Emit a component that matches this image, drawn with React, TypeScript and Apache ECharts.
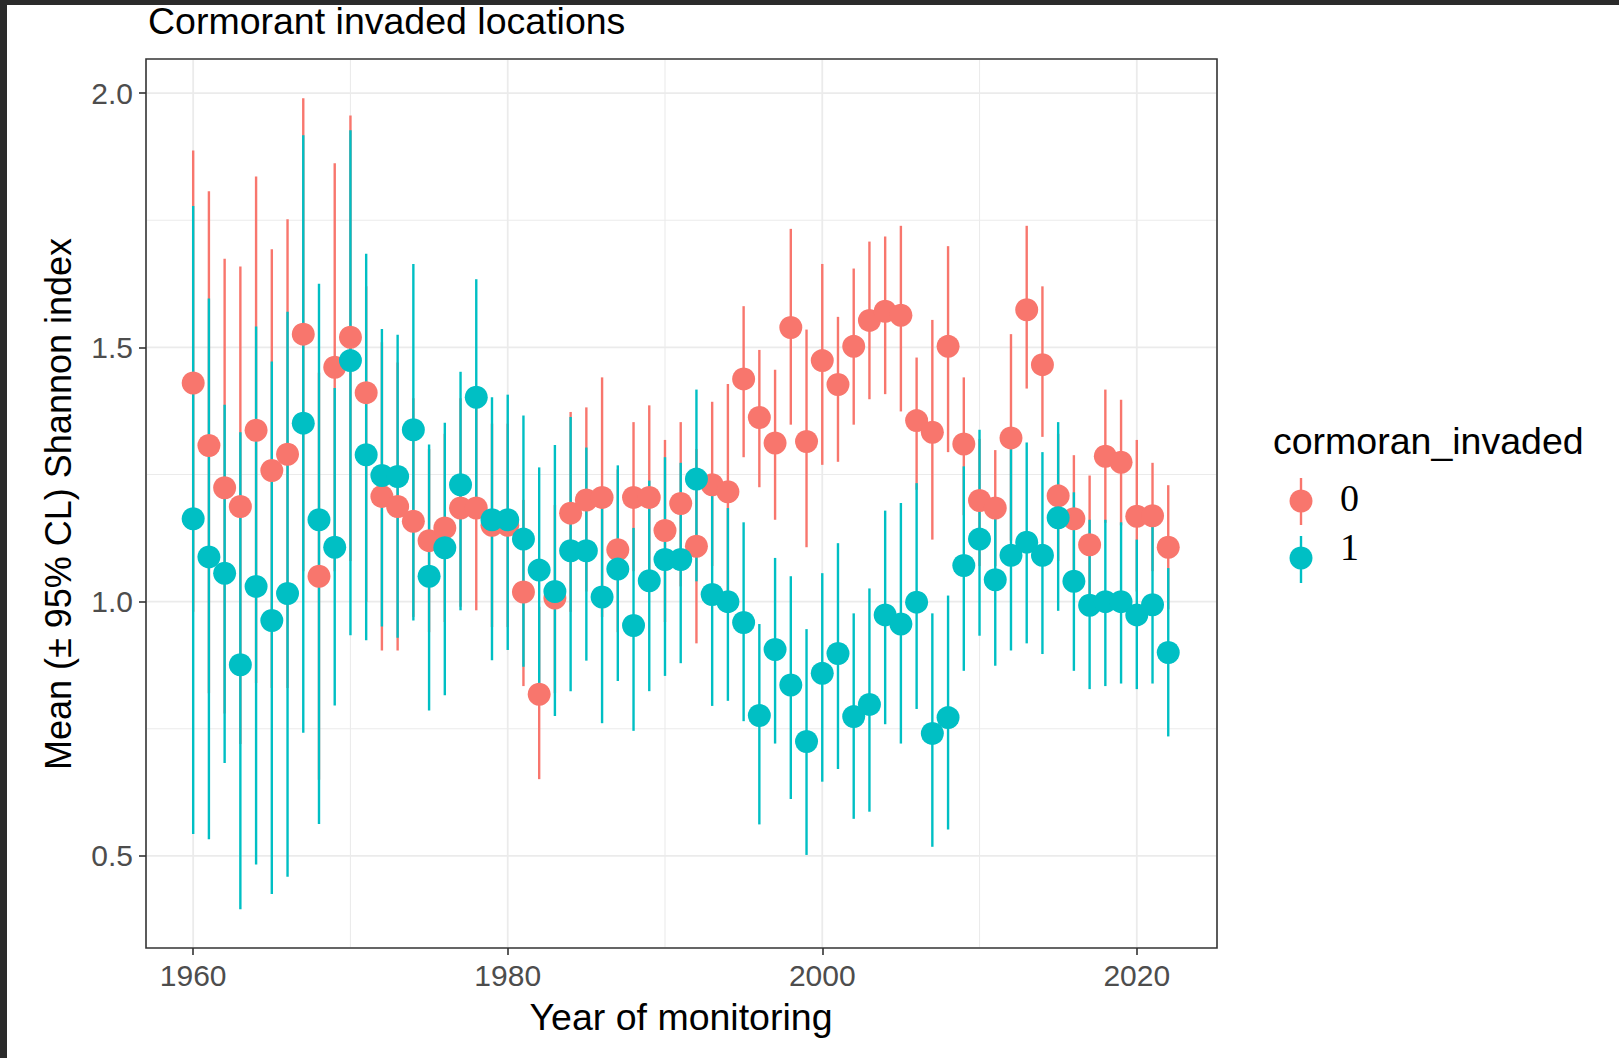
import React, { useEffect, useRef } from 'react';
import * as echarts from 'echarts';

// ---------- data ----------
const years = [
  1960, 1961, 1962, 1963, 1964, 1965, 1966, 1967, 1968, 1969,
  1970, 1971, 1972, 1973, 1974, 1975, 1976, 1977, 1978, 1979,
  1980, 1981, 1982, 1983, 1984, 1985, 1986, 1987, 1988, 1989,
  1990, 1991, 1992, 1993, 1994, 1995, 1996, 1997, 1998, 1999,
  2000, 2001, 2002, 2003, 2004, 2005, 2006, 2007, 2008, 2009,
  2010, 2011, 2012, 2013, 2014, 2015, 2016, 2017, 2018, 2019,
  2020, 2021, 2022,
];

// cormoran_invaded = 0
const mean0 = [
  1.430, 1.307, 1.224, 1.187, 1.337, 1.258, 1.290, 1.526, 1.050, 1.461,
  1.520, 1.411, 1.207, 1.187, 1.158, 1.120, 1.145, 1.184, 1.184, 1.150,
  1.150, 1.019, 0.818, 1.007, 1.174, 1.200, 1.205, 1.102, 1.205, 1.205,
  1.140, 1.193, 1.109, 1.230, 1.216, 1.438, 1.362, 1.312, 1.539, 1.315,
  1.474, 1.427, 1.502, 1.553, 1.571, 1.563, 1.356, 1.333, 1.502, 1.310,
  1.199, 1.184, 1.322, 1.574, 1.466, 1.208, 1.163, 1.112, 1.286, 1.274,
  1.168, 1.169, 1.107,
];
const low0 = [
  0.980, 0.820, 0.780, 0.720, 0.840, 0.830, 0.830, 1.060, 0.650, 1.060,
  1.080, 1.000, 0.904, 0.904, 0.970, 0.940, 0.960, 0.990, 0.983, 0.950,
  0.950, 0.834, 0.651, 0.820, 0.980, 1.020, 0.970, 0.940, 1.060, 1.020,
  0.960, 1.030, 0.918, 1.070, 1.000, 1.284, 1.225, 1.161, 1.348, 1.107,
  1.269, 1.275, 1.348, 1.398, 1.408, 1.374, 1.220, 1.122, 1.294, 1.170,
  1.070, 1.070, 1.120, 1.419, 1.324, 1.080, 1.040, 0.980, 1.155, 1.150,
  1.020, 1.060, 0.985,
];
const high0 = [
  1.887, 1.807, 1.674, 1.659, 1.836, 1.693, 1.752, 1.990, 1.450, 1.862,
  1.956, 1.620, 1.510, 1.470, 1.400, 1.300, 1.330, 1.400, 1.390, 1.350,
  1.350, 1.200, 0.990, 1.190, 1.373, 1.382, 1.441, 1.260, 1.353, 1.386,
  1.318, 1.353, 1.300, 1.393, 1.428, 1.581, 1.495, 1.456, 1.733, 1.535,
  1.664, 1.560, 1.655, 1.708, 1.718, 1.739, 1.480, 1.554, 1.699, 1.441,
  1.320, 1.298, 1.526, 1.739, 1.620, 1.330, 1.288, 1.248, 1.417, 1.397,
  1.318, 1.273, 1.229,
];

// cormoran_invaded = 1
const mean1 = [
  1.163, 1.088, 1.056, 0.876, 1.030, 0.963, 1.016, 1.351, 1.161, 1.107,
  1.474, 1.289, 1.248, 1.246, 1.338, 1.050, 1.106, 1.230, 1.402, 1.161,
  1.161, 1.123, 1.062, 1.020, 1.100, 1.100, 1.009, 1.064, 0.953, 1.041,
  1.083, 1.083, 1.241, 1.014, 1.000, 0.959, 0.776, 0.906, 0.836, 0.725,
  0.859, 0.898, 0.774, 0.798, 0.974, 0.956, 0.999, 0.741, 0.772, 1.071,
  1.123, 1.043, 1.091, 1.117, 1.091, 1.165, 1.040, 0.993, 1.000, 1.000,
  0.974, 0.994, 0.900,
];
const low1 = [
  0.543, 0.533, 0.683, 0.395, 0.483, 0.425, 0.459, 0.742, 0.563, 0.796,
  0.934, 0.924, 0.951, 0.929, 0.963, 0.786, 0.816, 0.983, 1.170, 0.885,
  0.905, 0.872, 0.830, 0.775, 0.824, 0.884, 0.761, 0.844, 0.746, 0.824,
  0.854, 0.879, 1.040, 0.795, 0.805, 0.765, 0.562, 0.721, 0.612, 0.502,
  0.646, 0.671, 0.573, 0.587, 0.759, 0.721, 0.789, 0.518, 0.552, 0.864,
  0.933, 0.874, 0.904, 0.918, 0.897, 0.982, 0.864, 0.828, 0.834, 0.839,
  0.828, 0.839, 0.735,
];
const high1 = [
  1.778, 1.596, 1.387, 1.333, 1.541, 1.472, 1.570, 1.917, 1.625, 1.420,
  1.927, 1.684, 1.536, 1.525, 1.664, 1.309, 1.352, 1.452, 1.634, 1.402,
  1.407, 1.366, 1.264, 1.308, 1.363, 1.303, 1.190, 1.268, 1.145, 1.238,
  1.284, 1.273, 1.417, 1.210, 1.184, 1.156, 0.956, 1.086, 1.050, 0.946,
  1.056, 1.115, 0.977, 1.026, 1.179, 1.194, 1.233, 0.977, 1.012, 1.266,
  1.338, 1.170, 1.300, 1.313, 1.294, 1.353, 1.215, 1.161, 1.161, 1.156,
  1.122, 1.147, 1.066,
];

const groupLabels = ['0', '1'];
const xMajorTicks = [1960, 1980, 2000, 2020];
const xMinorTicks = [1970, 1990, 2010];
const yMajorTicks = [0.5, 1.0, 1.5, 2.0];
const yMinorTicks = [0.75, 1.25, 1.75];

const titleText = 'Cormorant invaded locations';
const xTitle = 'Year of monitoring';
const yTitle = 'Mean (\u00B1 95% CL) Shannon index';
const legendTitle = 'cormoran_invaded';

// ---------- styling ----------
const RED = '#F8766D';
const TEAL = '#00BFC4';
const GRID = '#EBEBEB';
const DARK = '#333333';
const SANS = '"Liberation Sans", Arial, Helvetica, sans-serif';
const SERIF = '"Liberation Serif", "Times New Roman", serif';

const W = 1619;
const H = 1058;
const X_MIN = 1957.0;
const X_MAX = 2025.1;
const Y_MIN = 0.319;
const Y_MAX = 2.067;
const GL = 146;
const GT = 59;
const GW = 1071;
const GH = 889;

export default function App() {
  const ref = useRef<HTMLDivElement>(null);

  useEffect(() => {
    document.body.style.margin = '0';
    if (!ref.current) return;
    const chart = echarts.init(ref.current, null, { renderer: 'svg', width: W, height: H });

    const errRender = (color: string) => (params: any, api: any) => {
      const x = api.value(0);
      const p1 = api.coord([x, api.value(1)]);
      const p2 = api.coord([x, api.value(2)]);
      return {
        type: 'line',
        shape: { x1: p1[0], y1: p1[1], x2: p2[0], y2: p2[1] },
        style: { stroke: color, lineWidth: 2.4 },
      };
    };

    const vGrid = (w: number) => (params: any, api: any) => {
      const p = api.coord([api.value(0), api.value(1)]);
      const cs = params.coordSys;
      return {
        type: 'line',
        shape: { x1: p[0], y1: cs.y + 1, x2: p[0], y2: cs.y + cs.height - 1 },
        style: { stroke: GRID, lineWidth: w },
      };
    };
    const hGrid = (w: number) => (params: any, api: any) => {
      const p = api.coord([api.value(0), api.value(1)]);
      const cs = params.coordSys;
      return {
        type: 'line',
        shape: { x1: cs.x + 1, y1: p[1], x2: cs.x + cs.width - 1, y2: p[1] },
        style: { stroke: GRID, lineWidth: w },
      };
    };

    const d0 = years.map((y, i) => [y, low0[i], high0[i]]);
    const d1 = years.map((y, i) => [y, low1[i], high1[i]]);
    const p0 = years.map((y, i) => [y, mean0[i]]);
    const p1 = years.map((y, i) => [y, mean1[i]]);

    const txt = (size: number, family: string, color: string) => ({
      fontSize: size,
      fontFamily: family,
      fill: color,
    });

    const option: any = {
      animation: false,
      backgroundColor: '#ffffff',
      tooltip: { show: false },
      grid: {
        left: GL,
        top: GT,
        width: GW,
        height: GH,
        show: true,
        borderColor: DARK,
        borderWidth: 1.6,
        backgroundColor: 'transparent',
        containLabel: false,
        outerBoundsMode: 'none',
      },
      xAxis: {
        type: 'value',
        min: X_MIN,
        max: X_MAX,
        axisLine: { show: false },
        splitLine: { show: false },
        minorSplitLine: { show: false },
        axisTick: {
          show: true,
          inside: false,
          length: 7,
          lineStyle: { color: DARK, width: 1.6 },
          customValues: xMajorTicks,
        },
        axisLabel: {
          show: true,
          customValues: xMajorTicks,
          margin: 12,
          color: '#4D4D4D',
          fontSize: 30,
          fontFamily: SANS,
          formatter: (v: number) => String(v),
        },
      },
      yAxis: {
        type: 'value',
        min: Y_MIN,
        max: Y_MAX,
        axisLine: { show: false },
        splitLine: { show: false },
        minorSplitLine: { show: false },
        axisTick: {
          show: true,
          inside: false,
          length: 7,
          lineStyle: { color: DARK, width: 1.6 },
          customValues: yMajorTicks,
        },
        axisLabel: {
          show: true,
          customValues: yMajorTicks,
          margin: 13,
          color: '#4D4D4D',
          fontSize: 30,
          fontFamily: SANS,
          formatter: (v: number) => v.toFixed(1),
        },
      },
      series: [
        { type: 'custom', silent: true, z: 1, renderItem: vGrid(1.1), data: xMinorTicks.map((v) => [v, 1]) },
        { type: 'custom', silent: true, z: 1, renderItem: hGrid(1.1), data: yMinorTicks.map((v) => [1990, v]) },
        { type: 'custom', silent: true, z: 1, renderItem: vGrid(1.8), data: xMajorTicks.map((v) => [v, 1]) },
        { type: 'custom', silent: true, z: 1, renderItem: hGrid(1.8), data: yMajorTicks.map((v) => [1990, v]) },
        { type: 'custom', silent: true, z: 2, renderItem: errRender(RED), data: d0, encode: { x: 0, y: [1, 2] } },
        { type: 'custom', silent: true, z: 3, renderItem: errRender(TEAL), data: d1, encode: { x: 0, y: [1, 2] } },
        {
          type: 'scatter', silent: true, z: 4, symbol: 'circle', symbolSize: 23, data: p0,
          itemStyle: { color: RED, opacity: 1 }, emphasis: { disabled: true },
        },
        {
          type: 'scatter', silent: true, z: 5, symbol: 'circle', symbolSize: 23, data: p1,
          itemStyle: { color: TEAL, opacity: 1 }, emphasis: { disabled: true },
        },
      ],
      graphic: [
        { type: 'rect', silent: true, shape: { x: 0, y: 0, width: W, height: 5 }, style: { fill: '#2b2b2b' } },
        { type: 'rect', silent: true, shape: { x: 0, y: 0, width: 7, height: H }, style: { fill: '#2b2b2b' } },
        {
          type: 'text', x: 148, y: 21,
          style: { text: titleText, ...txt(37.5, SANS, '#000000'), align: 'left', verticalAlign: 'middle' },
        },
        {
          type: 'text', x: 681, y: 1017,
          style: { text: xTitle, ...txt(37.5, SANS, '#000000'), align: 'center', verticalAlign: 'middle' },
        },
        {
          type: 'text', x: 58, y: 504, rotation: Math.PI / 2,
          style: { text: yTitle, ...txt(36, SANS, '#000000'), align: 'center', verticalAlign: 'middle' },
        },
        {
          type: 'text', x: 1273, y: 441,
          style: { text: legendTitle, ...txt(37.5, SANS, '#000000'), align: 'left', verticalAlign: 'middle' },
        },
        { type: 'line', silent: true, shape: { x1: 1301, y1: 478, x2: 1301, y2: 525 }, style: { stroke: RED, lineWidth: 2.4 } },
        { type: 'circle', silent: true, shape: { cx: 1301, cy: 501, r: 11.5 }, style: { fill: RED } },
        {
          type: 'text', x: 1340, y: 498,
          style: { text: groupLabels[0], ...txt(38, SERIF, '#000000'), align: 'left', verticalAlign: 'middle' },
        },
        { type: 'line', silent: true, shape: { x1: 1301, y1: 536, x2: 1301, y2: 583 }, style: { stroke: TEAL, lineWidth: 2.4 } },
        { type: 'circle', silent: true, shape: { cx: 1301, cy: 558, r: 11.5 }, style: { fill: TEAL } },
        {
          type: 'text', x: 1340, y: 547,
          style: { text: groupLabels[1], ...txt(38, SERIF, '#000000'), align: 'left', verticalAlign: 'middle' },
        },
      ],
    };

    chart.setOption(option);
    return () => {
      chart.dispose();
    };
  }, []);

  return <div ref={ref} style={{ width: W, height: H }} />;
}
